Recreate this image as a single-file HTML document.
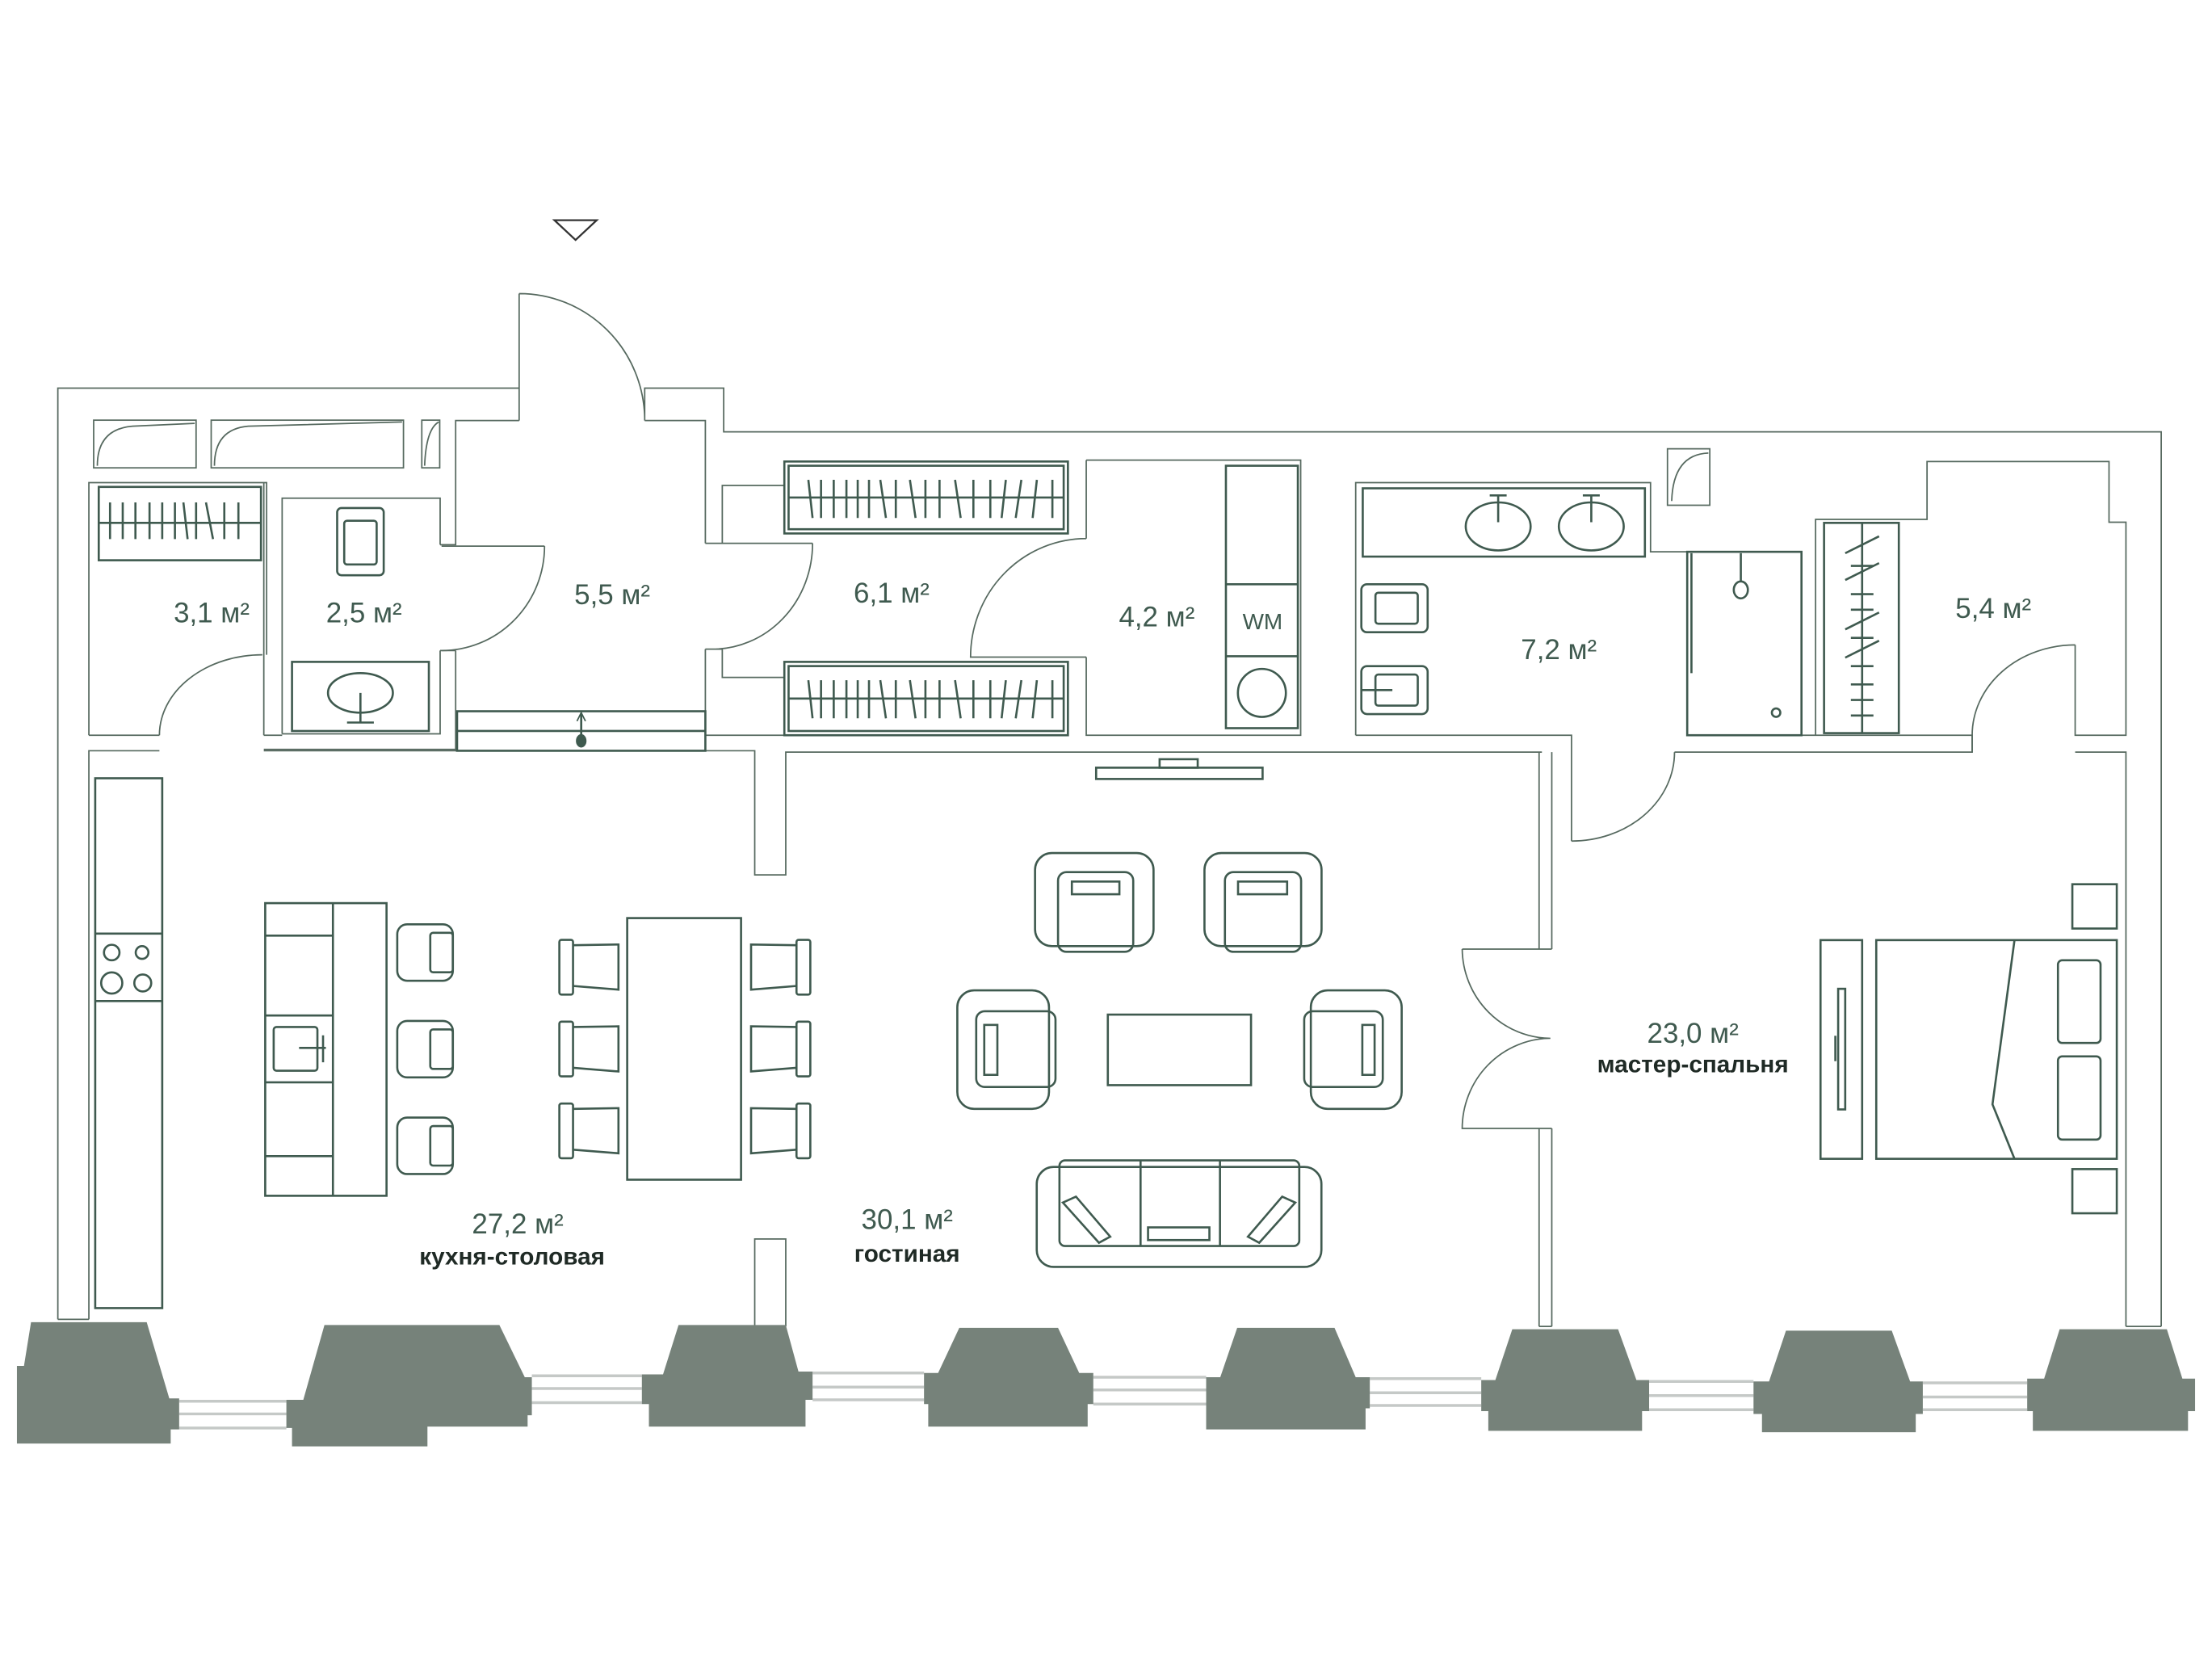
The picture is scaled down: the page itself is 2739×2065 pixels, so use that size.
<!DOCTYPE html>
<html><head><meta charset="utf-8"><style>
html,body{margin:0;padding:0;background:#fff;}
svg{display:block;}
.w{fill:none;stroke:#56695f;stroke-width:1;}
.f{fill:none;stroke:#3f5a4f;stroke-width:1.5;}
.t{fill:#3f5a4f;font-family:"Liberation Sans",sans-serif;font-size:20px;text-anchor:middle;}
.b{fill:#1f2a25;font-family:"Liberation Sans",sans-serif;font-size:17px;font-weight:bold;text-anchor:middle;}
.p{fill:#76827a;}
.g{stroke:#c5c9c7;stroke-width:2;}
</style></head><body>
<svg width="2739" height="2065" viewBox="0 0 1568 1182" xmlns="http://www.w3.org/2000/svg">
<rect width="1568" height="1182" fill="#fff"/>
<polygon points="393,156 423,156 408,170" fill="none" stroke="#333" stroke-width="1.3"/>
<g class="w">
<path d="M41,935 V275 H368 V208 M368,208 V298 M368,208 A89,90 0 0 1 457,296 M457,298 V275 H513 V306 H1532 V940"/>
<path d="M63,935 V532 H113 M63,521 V342 H189 V464 M113,521 H63 M113,521 A73,57 0 0 1 186,464"/>
<path d="M187,521 V342 M200,520 V353 H312 V386 M200,520 H312 V461 M187,531 H323 V461 M187,521 H200"/>
<path d="M312,386 H323 V298 H368 M312,461 H323"/>
<path d="M313,387 H386 M386,387 A73,74 0 0 1 313,461"/>
<path d="M457,298 H500 V385 M500,460 V532 H323"/>
<path d="M500,385 H576 M576,385 A71,75 0 0 1 505,460 M500,460 H512 V480 H556 M500,385 H512 V344 H556"/>
<path d="M500,521 H556 M187,532 H535 V620 H557 V533 H1093 M535,940 V878 H557 V940"/>
<path d="M770,326 H922 V521 H770 V465.6 M770,381.6 V326 M770,381.6 A82,84 0 0 0 688,465.6 H770"/>
<path d="M961,521 V342 H1170 V391 H1196 M961,521 H1114 V533 M1187,533 H1398 V521 H1277 M1114,533 V596 M1114,596 A73,63 0 0 0 1187,533"/>
<path d="M1287,521 V368 H1366 V327 H1495 V370 H1507 V521 H1471 V457 M1398,521 A73,64 0 0 1 1471,457 M1471,533 H1507 V940 M1398,533 V521"/>
<path d="M1091,533 V672.6 M1100,533 V672.6 M1091,799.7 V940 M1100,799.7 V940 M1091,940 H1100"/>
<path d="M1036.5,672.6 H1100 M1036.5,672.6 A63,64 0 0 0 1099,735.8 A63,64 0 0 0 1036.5,799.7 H1100"/>
<path d="M41,935 H63 M1507,940 H1532"/>
<rect x="1182" y="318" width="30" height="40"/>
<path d="M1185,355 Q1186,322 1211,321"/>
<rect x="66.4" y="297.7" width="72.6" height="33.8"/>
<rect x="149.7" y="297.7" width="136.3" height="33.8"/>
<rect x="299" y="297.7" width="12.7" height="33.8"/>
<path d="M69,330 Q69,304 94,302 L138,300 M152,330 Q152,304 176,302 L285,299 M301,330 Q302,304 311,299"/>
</g>
<g class="f">
<rect x="70" y="345" width="115" height="52"/>
<path d="M70,370.5 H185"/>
<path d="M78,356v26M87,356v26M96,356v26M106,356v26M115,356v26M124,356v26M130,356l3,26M139,356v26M146,356l5,26M159,356v26M169,356v26"/>
<rect x="556" y="327" width="201" height="51"/>
<rect x="559" y="330" width="195" height="45"/>
<path d="M559,352.5 H754"/>
<path d="M573,340l3,27M582,340v27M591,340v27M600,340v27M608,340v27M616,340v27M624,340l4,27M635,340v27M645,340l4,27M656,340v27M666,340v27M677,340l4,27M690,340v27M702,340v27M713,340l-3,27M724,340l-4,27M735,340l-3,27M746,340v27"/>
<rect x="556" y="469" width="201" height="52"/>
<rect x="559" y="472" width="195" height="46"/>
<path d="M559,495 H754"/>
<path d="M573,482l3,27M582,482v27M591,482v27M600,482v27M608,482v27M616,482v27M624,482l4,27M635,482v27M645,482l4,27M656,482v27M666,482v27M677,482l4,27M690,482v27M702,482v27M713,482l-3,27M724,482l-4,27M735,482l-3,27M746,482v27"/>
<rect x="1293" y="370.5" width="53" height="149"/>
<path d="M1320,370.5 V519.5"/>
<path d="M1308,392l24,-12M1312,401h16M1308,411l24,-12M1312,421h16M1312,432h16M1308,446l24,-12M1312,452h16M1308,466l24,-12M1312,472h16M1312,485h16M1312,496h16M1312,507h16"/>
<rect x="239" y="360" width="33" height="47.6" rx="3"/>
<rect x="244" y="369" width="23" height="31" rx="2"/>
<rect x="207" y="469" width="97" height="49"/>
<ellipse cx="255.5" cy="491" rx="23" ry="14"/>
<path d="M255.5,491 V512 M246,512 H265"/>
<rect x="324" y="504" width="176" height="28"/>
<path d="M324,518 H500 M412,506 V524"/>
<path d="M409,511 L412,505 L415,511" stroke-width="1"/>
<ellipse cx="412" cy="525" rx="3" ry="4" fill="#3f5a4f"/>
<rect x="869" y="330" width="51" height="186"/>
<path d="M869,414 H920 M869,465 H920"/>
<ellipse cx="894.5" cy="491" rx="17" ry="17"/>
<rect x="966" y="346" width="200" height="48.4"/>
<ellipse cx="1062" cy="373" rx="23" ry="17"/>
<ellipse cx="1128" cy="373" rx="23" ry="17"/>
<path d="M1062,351 V370 M1056,351 H1068 M1128,351 V370 M1122,351 H1134"/>
<rect x="965" y="414" width="47" height="34" rx="4"/>
<rect x="975" y="420" width="30" height="22" rx="2"/>
<rect x="965" y="472" width="47" height="34" rx="4"/>
<rect x="975" y="478" width="30" height="22" rx="2"/>
<path d="M965,489 H987"/>
<rect x="1196" y="391" width="81" height="130"/>
<path d="M1199,392 V477"/>
<ellipse cx="1234" cy="418" rx="5" ry="6"/>
<path d="M1234,392 V412"/>
<circle cx="1259" cy="505" r="3"/>
<rect x="777" y="544" width="118" height="8"/>
<rect x="822" y="538" width="27" height="6"/>
<rect x="67.5" y="551.5" width="47.5" height="375.5"/>
<path d="M67.5,661.6 H115 M67.5,709.4 H115"/>
<circle cx="79.2" cy="675" r="5.5"/>
<circle cx="100.7" cy="675" r="4.5"/>
<circle cx="79.2" cy="696.6" r="7.5"/>
<circle cx="101.2" cy="696.6" r="6"/>
<rect x="188" y="640" width="86" height="207.4"/>
<path d="M236,640 V847.4 M188,663 H236 M188,719.6 H236 M188,767 H236 M188,819.3 H236"/>
<rect x="194" y="727.8" width="31" height="31" rx="2"/>
<path d="M212,742.6 H231 M229,733.7 V752.8"/>
<rect x="281.6" y="655" width="39.4" height="40" rx="7"/>
<rect x="305" y="661" width="16" height="28" rx="2"/>
<rect x="281.6" y="723.5" width="39.4" height="40" rx="7"/>
<rect x="305" y="729.5" width="16" height="28" rx="2"/>
<rect x="281.6" y="792" width="39.4" height="40" rx="7"/>
<rect x="305" y="798" width="16" height="28" rx="2"/>
<rect x="444.6" y="650.6" width="80.7" height="185.4"/>
<g id="lc">
<rect x="396.5" y="666" width="9.7" height="38.8" rx="1.5"/>
<path d="M406.2,669.8 L438.4,669.3 L438.4,701.3 L406.2,698.7"/>
<rect x="564.6" y="666" width="9.8" height="38.8" rx="1.5"/>
<path d="M564.6,669.8 L532.4,669.3 L532.4,701.3 L564.6,698.7"/>
</g>
<use href="#lc" y="58"/>
<use href="#lc" y="116"/>
<rect x="733.7" y="604.5" width="84" height="66" rx="12"/>
<rect x="750" y="618" width="53.3" height="56.5" rx="6"/>
<rect x="759.8" y="624.7" width="33.7" height="9"/>
<rect x="853.8" y="604.5" width="83" height="66" rx="12"/>
<rect x="868.3" y="618" width="54" height="56.5" rx="6"/>
<rect x="877.6" y="624.7" width="34.8" height="9"/>
<rect x="678.6" y="701.8" width="65" height="84" rx="12"/>
<rect x="692" y="716.6" width="56.2" height="53.7" rx="6"/>
<rect x="697.7" y="726.3" width="9.3" height="35.4"/>
<rect x="929.2" y="701.8" width="64.4" height="84" rx="12"/>
<rect x="924.5" y="716.6" width="55.7" height="53.7" rx="6"/>
<rect x="965.7" y="726.3" width="8.7" height="35.4"/>
<rect x="785.3" y="719" width="101.5" height="50"/>
<rect x="734.9" y="827" width="201.8" height="70.8" rx="12"/>
<rect x="751" y="822.3" width="170" height="60.7" rx="4"/>
<path d="M808.5,822.3 V883 M864.8,822.3 V883"/>
<rect x="813.8" y="869.8" width="43.5" height="9"/>
<polygon points="753.4,852.2 762.7,848 787,876.4 779,880.7"/>
<polygon points="918.2,852.2 908.9,848 884.6,876.4 892.6,880.7"/>
<rect x="1290.5" y="666.2" width="29.5" height="155"/>
<rect x="1303" y="700.7" width="5" height="85.5"/>
<path d="M1301,734 V752"/>
<rect x="1330" y="666.2" width="170.5" height="155"/>
<path d="M1428,666.2 L1412.4,782.6 L1428,821.2"/>
<rect x="1458.8" y="680.5" width="30.2" height="58.6" rx="3"/>
<rect x="1458.8" y="748.6" width="30.2" height="59" rx="3"/>
<rect x="1469" y="626.6" width="31.5" height="31.4"/>
<rect x="1469" y="828.5" width="31.5" height="31.3"/>
</g>
<g>
<path class="g" d="M127,993H203M127,1002H203M127,1012H203 M377,975H455M377,984H455M377,994H455 M576,973H655M576,983H655M576,992H655 M775,976H855M775,985H855M775,995H855 M971,977H1050M971,987H1050M971,996H1050 M1169,979H1243M1169,989H1243M1169,999H1243 M1363,980H1437M1363,990H1437M1363,999H1437"/>
<polygon class="p" points="22,937 104,937 120,991 127,991 127,1013 121,1013 121,1023 12,1023 12,968 17,968"/>
<polygon class="p" points="230,939 354,939 372,976 377,976 377,1003 374,1003 374,1011 303,1011 303,1025 207,1025 207,1012 203,1012 203,992 215,992"/>
<polygon class="p" points="481,939 557,939 566,972 576,972 576,992 571,992 571,1011 460,1011 460,995 455,995 455,974 470,974"/>
<polygon class="p" points="680,941 750,941 765,973 775,973 775,995 771,995 771,1011 658,1011 658,995 655,995 655,973 665,973"/>
<polygon class="p" points="877,941 946,941 961,976 971,976 971,998 968,998 968,1013 855,1013 855,976 865,976"/>
<polygon class="p" points="1072,942 1147,942 1160,978 1169,978 1169,1000 1164,1000 1164,1014 1055,1014 1055,1000 1050,1000 1050,978 1060,978"/>
<polygon class="p" points="1266,943 1341,943 1354,979 1363,979 1363,1002 1358,1002 1358,1015 1249,1015 1249,1002 1243,1002 1243,979 1254,979"/>
<polygon class="p" points="1460,942 1536,942 1547,977 1556,977 1556,1000 1551,1000 1551,1014 1441,1014 1441,1000 1437,1000 1437,977 1449,977"/>
</g>
<text class="t" x="150" y="441">3,1 м²</text>
<text class="t" x="258" y="441">2,5 м²</text>
<text class="t" x="434" y="428">5,5 м²</text>
<text class="t" x="632" y="427">6,1 м²</text>
<text class="t" x="820" y="444">4,2 м²</text>
<text class="t" x="895" y="446" style="font-size:16px">WM</text>
<text class="t" x="1105" y="467">7,2 м²</text>
<text class="t" x="1413" y="438">5,4 м²</text>
<text class="t" x="1200" y="739">23,0 м²</text>
<text class="b" x="1200" y="760">мастер-спальня</text>
<text class="t" x="367" y="874">27,2 м²</text>
<text class="b" x="363" y="896">кухня-столовая</text>
<text class="t" x="643" y="871">30,1 м²</text>
<text class="b" x="643" y="894">гостиная</text>
</svg>
</body></html>
